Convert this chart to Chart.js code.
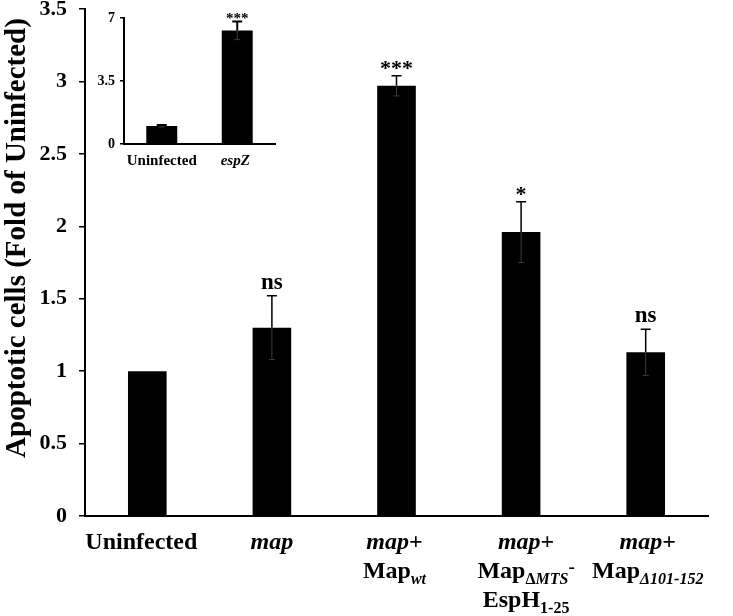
<!DOCTYPE html>
<html>
<head>
<meta charset="utf-8">
<script src="https://cdn.jsdelivr.net/npm/chart.js@4.4.1/dist/chart.umd.min.js"></script>
<style>
  html, body { margin: 0; padding: 0; background: #fff; }
  #wrap { position: relative; width: 733px; height: 616px; }
  #mainChart { position: absolute; left: 0; top: 0; }
  #insetChart { position: absolute; left: 88px; top: 0; }
</style>
</head>
<body>
<div id="wrap">
  <canvas id="mainChart" width="733" height="616"></canvas>
  <canvas id="insetChart" width="200" height="175"></canvas>
</div>
<script>
// main panel data
const categories = ['Uninfected', 'map', 'map+Map_wt', 'map+Map_dMTS-EspH1-25', 'map+Map_d101-152'];
const apoptosisFold = [1.0, 1.30, 2.97, 1.96, 1.13];
const apoptosisErr = [0, 0.22, 0.07, 0.21, 0.16];
const significance = ['', 'ns', '***', '*', 'ns'];
const yTickStep = 0.5;
const yMax = 3.5;

// inset data
const insetCategories = ['Uninfected', 'espZ'];
const insetFold = [1.0, 6.3];
const insetErr = [0.05, 0.5];
const insetSignificance = ['', '***'];
const insetTickStep = 3.5;
const insetMax = 7;

const SERIF = '"Liberation Serif", "Times New Roman", serif';

// how each category label is written: lines of [text, kind]
// kind: '' bold, 'i' bold italic, 's' subscript, 'si' italic subscript, 'p' superscript
const labelRuns = {
    'Uninfected': [[['Uninfected', '']]],
    'map': [[['map', 'i']]],
    'map+Map_wt': [[['map', 'i'], ['+', '']], [['Map', ''], ['wt', 'si']]],
    'map+Map_dMTS-EspH1-25': [[['map', 'i'], ['+', '']], [['Map', ''], ['\u0394', 's'], ['MTS', 'si'], ['-', 'p']], [['EspH', ''], ['1-25', 's']]],
    'map+Map_d101-152': [[['map', 'i'], ['+', '']], [['Map', ''], ['\u0394101-152', 'si']]],
    'espZ': [[['espZ', 'i']]]
};

function runFont(kind, size) {
    const small = kind === 's' || kind === 'si';
    const italic = kind === 'i' || kind === 'si';
    const px = small ? Math.round(size * 0.68) : (kind === 'p' ? Math.round(size * 0.8) : size);
    return (italic ? 'italic ' : '') + 'bold ' + px + 'px ' + SERIF;
}

function drawRichLine(ctx, runs, cx, y, size) {
    let total = 0;
    runs.forEach(r => { ctx.font = runFont(r[1], size); total += ctx.measureText(r[0]).width; });
    let x = cx - total / 2;
    runs.forEach(r => {
        ctx.font = runFont(r[1], size);
        let dy = 0;
        if (r[1] === 's' || r[1] === 'si') dy = size * 0.25;
        if (r[1] === 'p') dy = -size * 0.2;
        ctx.fillText(r[0], x, y + dy);
        x += ctx.measureText(r[0]).width;
    });
}

function makeDecor(opts) {
    return {
        id: 'decor',
        afterDatasetsDraw(chart) {
            const ctx = chart.ctx;
            const xs = chart.scales.x;
            const ys = chart.scales.y;
            const vals = chart.data.datasets[0].data;
            ctx.save();
            ctx.fillStyle = '#000';
            ctx.strokeStyle = '#000';
            ctx.textBaseline = 'alphabetic';
            ctx.textAlign = 'left';
            vals.forEach((v, i) => {
                const x = xs.getPixelForValue(i);
                const e = opts.err[i];
                const yTop = ys.getPixelForValue(v + e);
                const yBar = ys.getPixelForValue(v);
                const yLow = ys.getPixelForValue(v - e);
                if (e > 0) {
                    ctx.lineWidth = opts.errWidth;
                    ctx.strokeStyle = '#000';
                    ctx.beginPath();
                    ctx.moveTo(x, yTop); ctx.lineTo(x, yBar);
                    ctx.moveTo(x - opts.cap, yTop); ctx.lineTo(x + opts.cap, yTop);
                    ctx.stroke();
                    ctx.strokeStyle = '#3c3c3c';
                    ctx.lineWidth = 1;
                    ctx.beginPath();
                    ctx.moveTo(x, yBar); ctx.lineTo(x, yLow);
                    ctx.moveTo(x - opts.cap + 2, yLow); ctx.lineTo(x + opts.cap - 2, yLow);
                    ctx.stroke();
                }
                const mark = opts.sig[i];
                if (mark) {
                    const isStar = mark.indexOf('*') >= 0;
                    ctx.font = 'bold ' + (isStar ? opts.starSize : opts.nsSize) + 'px ' + SERIF;
                    ctx.textAlign = 'center';
                    ctx.fillText(mark, x, yTop + (isStar ? opts.starDy : opts.nsDy));
                    ctx.textAlign = 'left';
                }
                const lines = labelRuns[chart.data.labels[i]];
                lines.forEach((runs, li) => {
                    drawRichLine(ctx, runs, x + (opts.labelDx ? opts.labelDx[i] : 0),
                        xs.top + opts.labelY + li * opts.lineGap, opts.labelSize);
                });
            });
            if (opts.yTitle) {
                ctx.translate(opts.yTitle.x, opts.yTitle.y);
                ctx.rotate(-Math.PI / 2);
                ctx.font = 'bold ' + opts.yTitle.size + 'px ' + SERIF;
                ctx.textAlign = 'center';
                ctx.textBaseline = 'middle';
                ctx.fillText(opts.yTitle.text, 0, 0);
            }
            ctx.restore();
        }
    };
}

function axisOptions(cfg) {
    return {
        x: {
            grid: { display: false },
            border: { display: true, color: '#000', width: 2 },
            ticks: { display: false },
            afterFit(scale) { scale.height = cfg.xHeight; }
        },
        y: {
            min: 0,
            max: cfg.max,
            grid: { display: true, drawOnChartArea: false, drawTicks: true, tickLength: cfg.tickLen, color: '#000', lineWidth: 1.5 },
            border: { display: true, color: '#000', width: 2 },
            ticks: {
                stepSize: cfg.step,
                color: '#000',
                padding: cfg.tickPad,
                font: { family: SERIF, size: cfg.tickSize, weight: 'bold' },
                callback: v => String(+Number(v).toFixed(2))
            },
            afterFit(scale) {
                scale.width = cfg.yWidth;
                scale.paddingTop = 0;
                scale.paddingBottom = 0;
            }
        }
    };
}

new Chart(document.getElementById('mainChart'), {
    type: 'bar',
    data: {
        labels: categories,
        datasets: [{
            data: apoptosisFold,
            backgroundColor: '#000',
            borderWidth: 0,
            barPercentage: 0.31,
            categoryPercentage: 1
        }]
    },
    options: {
        responsive: false,
        animation: false,
        layout: { padding: { top: 9, right: 25, left: 0, bottom: 0 } },
        plugins: { legend: { display: false }, tooltip: { enabled: false } },
        scales: axisOptions({ max: yMax, step: yTickStep, xHeight: 100, yWidth: 85, tickLen: 6, tickPad: 12, tickSize: 22 })
    },
    plugins: [makeDecor({
        err: apoptosisErr, sig: significance, errWidth: 1.5, cap: 5,
        starSize: 22, nsSize: 23, starDy: -1, nsDy: -7,
        labelY: 33, lineGap: 29, labelSize: 24,
        labelDx: [-6, 0, -2, 5, 2],
        yTitle: { text: 'Apoptotic cells (Fold of Uninfected)', x: 18, y: 238, size: 29 }
    })]
});

new Chart(document.getElementById('insetChart'), {
    type: 'bar',
    data: {
        labels: insetCategories,
        datasets: [{
            data: insetFold,
            backgroundColor: '#000',
            borderWidth: 0,
            barPercentage: 0.41,
            categoryPercentage: 1
        }]
    },
    options: {
        responsive: false,
        animation: false,
        layout: { padding: { top: 18, right: 13, left: 0, bottom: 0 } },
        plugins: { legend: { display: false }, tooltip: { enabled: false } },
        scales: axisOptions({ max: insetMax, step: insetTickStep, xHeight: 31, yWidth: 36, tickLen: 4, tickPad: 5, tickSize: 14 })
    },
    plugins: [makeDecor({
        err: insetErr, sig: insetSignificance, errWidth: 2, cap: 5,
        starSize: 15, nsSize: 15, starDy: 1, nsDy: -5,
        labelY: 21, lineGap: 18, labelSize: 15,
        labelDx: [0, -2]
    })]
});
</script>
</body>
</html>
